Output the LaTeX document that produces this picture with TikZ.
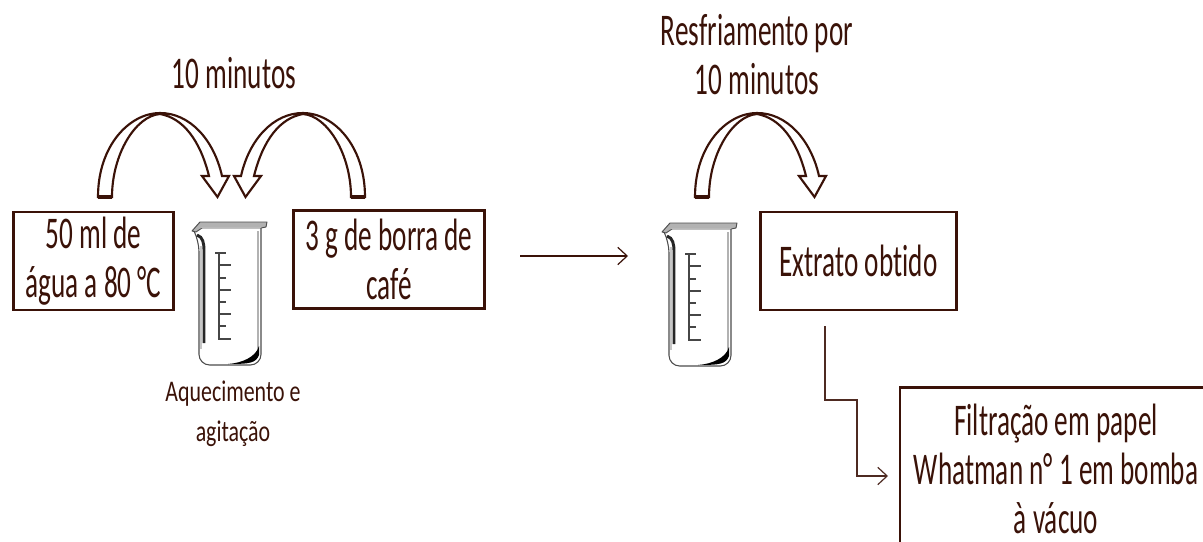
\documentclass[tikz,border=0pt]{standalone}
\usepackage{fontspec}
\setmainfont[FakeStretch=0.6,Ligatures=NoCommon]{Carlito}
\newfontfamily\fontemenor[FakeStretch=0.73,Ligatures=NoCommon]{Carlito}
\usetikzlibrary{arrows.meta}
\definecolor{borra}{HTML}{3A1208}
\tikzset{
  caixa/.style={draw=borra,line width=2.2pt,inner sep=0pt},
  rotulo/.style={text=borra,inner sep=0pt,align=center,font=\fontsize{34}{36.8}\selectfont},
  rotulomenor/.style={text=borra,inner sep=0pt,align=center,font=\fontemenor\fontsize{22.5}{30}\selectfont},
  seta/.style={draw=borra,line width=0.9pt,-{Straight Barb[length=7pt,width=13pt,line width=0.9pt]}},
  setafina/.style={seta,draw=borra!90,line width=0.8pt},
  setacurva/.pic={
    \draw[borra,line width=1.6pt,line join=miter,fill=white]
      (-62,84) .. controls (-62,32) and (-30,0) .. (0,0)
      .. controls (30,0) and (54,27) .. (62,63) -- (69,63) -- (57.5,84) -- (42,63) -- (49,63)
      .. controls (40,27) and (23,5) .. (0,1)
      .. controls (-25,3) and (-48,42) .. (-48,84) -- cycle;
    \draw[borra,line width=2.4pt] (-62,84) -- (-48,84);
  },
  bequer/.pic={
    \fill[gray!60] (0,10) -- (8,1) -- (75,1) -- (74,6) -- (10,6) -- (4,11) -- cycle;
    \draw[gray!60!black,line width=0.7pt,line join=round]
      (0,10) -- (8,1) -- (75,1) -- (74,6) -- (69,7) -- (10,7) -- (4,11) -- cycle;
    \draw[gray!60!black,line width=0.8pt,rounded corners=8pt]
      (3,12) -- (7,20) -- (7,144) -- (69,144) -- (69,7);
    \draw[gray!60,line width=1.6pt] (66,10) -- (66,130);
    \draw[black!85,line width=2.2pt] (5,14) .. controls (11,16) and (12,22) .. (12,30) -- (12,122);
    \draw[gray!45,line width=1.4pt] (9,25) -- (9,128);
    \fill[black] (36,143) .. controls (50,142) and (64,136) .. (67,125) -- (67,134) .. controls (64,142) and (58,143) .. (36,143) -- cycle;
    \draw[gray!55!black,line width=0.8pt] (27,32) -- (27,119)
      (23,32) -- (34,32) (27,44) -- (39,44) (27,57) -- (34,57) (27,69) -- (39,69)
      (27,81) -- (34,81) (27,93) -- (39,93) (27,105) -- (34,105) (27,118) -- (39,118);
  }
}
\begin{document}
\begin{tikzpicture}[x=0.75pt,y=-0.75pt]
\useasboundingbox (0,0) rectangle (1203,542);
\clip (0,0) rectangle (1203,542);
% caixas
\node[caixa,rotulo,minimum width=120pt,minimum height=73.5pt] (agua) at (93.5,261) {50 ml de\\água a 80 °C};
\node[caixa,rotulo,minimum width=143pt,minimum height=73.5pt] (borra) at (389,259.5) {3 g de borra de\\café};
\node[caixa,rotulo,minimum width=147.5pt,minimum height=73.5pt] (extrato) at (858.5,261) {Extrato obtido};
\node[caixa,minimum width=234pt,minimum height=127pt] (filtracao) at (1056,472) {};
\node[rotulo] (textofiltro) at (1056,469) {Filtração em papel\\Whatman n° 1 em bomba\\à vácuo};
% rotulos
\node[rotulo] (tempo) at (234,73) {10 minutos};
\node[rotulo] (resfria) at (757,55) {Resfriamento por\\10 minutos};
\node[rotulomenor] (aquece) at (233,414) {Aquecimento e\\agitação};
% bequers
\pic at (192,221) {bequer};
\pic at (662,222) {bequer};
% setas curvas
\pic at (160,113) {setacurva};
\pic[xscale=-1] at (303,113) {setacurva};
\pic at (757,113) {setacurva};
% conectores
\coordinate (saida) at (520,256);
\coordinate (chegada) at (628,256);
\coordinate (desce) at (825,326);
\coordinate (seta) at (888,476);
\draw[seta] (saida) -- (chegada);
\draw[setafina] (desce) -- (825,400) -- (857,400) -- (857,476) -- (seta);
\end{tikzpicture}
\end{document}
